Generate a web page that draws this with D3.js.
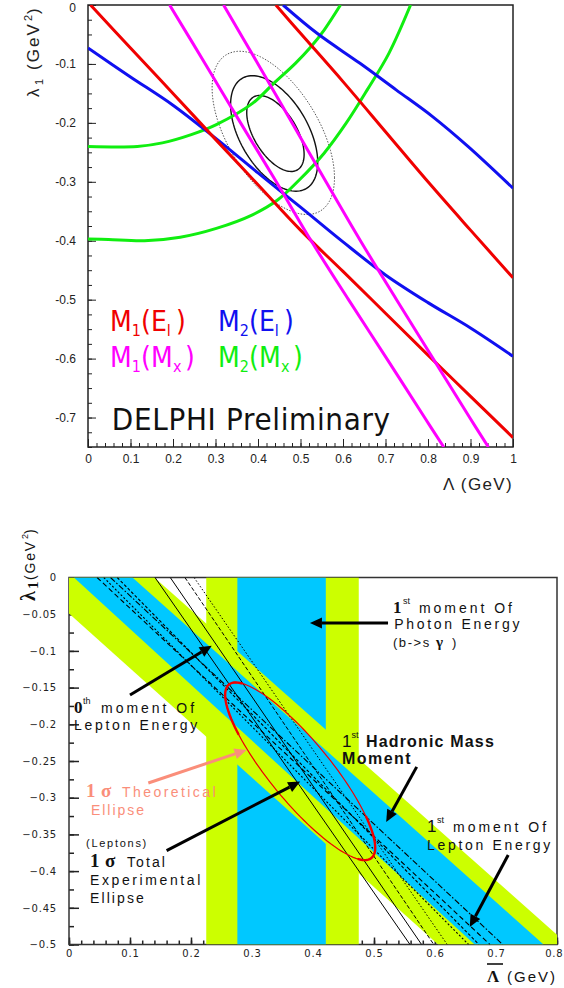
<!DOCTYPE html>
<html>
<head>
<meta charset="utf-8">
<script src="https://cdn.jsdelivr.net/npm/d3@7"></script>
<style>
  body { margin: 0; background: #fff; }
  svg { display: block; }
</style>
</head>
<body>
<svg id="chart" width="564" height="988"></svg>
<script>
// ================= top panel: DELPHI fit of lambda1 vs Lambda =================
const topXTicks = [0, 0.1, 0.2, 0.3, 0.4, 0.5, 0.6, 0.7, 0.8, 0.9, 1];
const topXLabels = ['0', '0.1', '0.2', '0.3', '0.4', '0.5', '0.6', '0.7', '0.8', '0.9', '1'];
const topYTicks = [0, -0.1, -0.2, -0.3, -0.4, -0.5, -0.6, -0.7];
const topYLabels = ['0', '-0.1', '-0.2', '-0.3', '-0.4', '-0.5', '-0.6', '-0.7'];

// [Lambda, lambda1] points
const m1ElLow = [[0.006, 0], [0.1, -0.073], [0.2, -0.15], [0.3, -0.228], [0.4, -0.305], [0.5, -0.382],
  [0.6, -0.452], [0.7, -0.523], [0.8, -0.594], [0.9, -0.664], [1.0, -0.734]];
const m1ElHigh = [[0.442, 0], [0.5, -0.048], [0.6, -0.13], [0.7, -0.215], [0.8, -0.3], [0.9, -0.382], [1.0, -0.463]];
const m2ElLow = [[0, -0.073], [0.1, -0.122], [0.2, -0.17], [0.3, -0.226], [0.4, -0.285], [0.5, -0.343],
  [0.6, -0.402], [0.7, -0.458], [0.8, -0.505], [0.9, -0.548], [1.0, -0.596]];
const m2ElHigh = [[0.459, 0], [0.539, -0.048], [0.64, -0.099], [0.725, -0.144], [0.81, -0.189], [0.894, -0.24], [1.0, -0.311]];
const m1MxLeft = [[0.192, 0], [0.276, -0.1], [0.359, -0.2], [0.443, -0.3], [0.525, -0.4], [0.613, -0.5],
  [0.703, -0.6], [0.792, -0.7], [0.837, -0.75]];
const m1MxRight = [[0.319, 0], [0.4, -0.1], [0.48, -0.2], [0.56, -0.3], [0.641, -0.4], [0.726, -0.5],
  [0.812, -0.6], [0.898, -0.7], [0.942, -0.75]];
const m2MxInner = [[0, -0.24], [0.116, -0.24], [0.175, -0.234], [0.243, -0.22], [0.302, -0.203], [0.387, -0.167],
  [0.437, -0.133], [0.488, -0.099], [0.522, -0.073], [0.556, -0.042], [0.594, 0]];
const m2MxOuter = [[0, -0.397], [0.048, -0.398], [0.133, -0.4], [0.217, -0.394], [0.302, -0.379], [0.387, -0.356],
  [0.446, -0.331], [0.497, -0.297], [0.556, -0.251], [0.607, -0.201], [0.657, -0.144], [0.708, -0.082], [0.759, 0]];

// fit contours: centre, half width, half height, correlation
const contourCL = [0.441, 0.438, 0.436];
const contourCl = [-0.218, -0.218, -0.217];
const contourHW = [0.0675, 0.1025, 0.144];
const contourHH = [0.0645, 0.098, 0.1385];
const contourRho = [-0.55, -0.5, -0.55];
const contourDash = ['', '', '1.5,1.5'];

// ================= bottom panel: moments bands =================
const botXTicks = [0, 0.1, 0.2, 0.3, 0.4, 0.5, 0.6, 0.7, 0.8];
const botXLabels = ['0', '0.1', '0.2', '0.3', '0.4', '0.5', '0.6', '0.7', '0.8'];
const botYTicks = [0, -0.05, -0.1, -0.15, -0.2, -0.25, -0.3, -0.35, -0.4, -0.45, -0.5];
const botYLabels = ['0', '\u22120.05', '\u22120.1', '\u22120.15', '\u22120.2', '\u22120.25', '\u22120.3',
  '\u22120.35', '\u22120.4', '\u22120.45', '\u22120.5'];

// photon energy band (vertical), Lambda range
const photonOuter = [0.225, 0.475];
const photonInner = [0.276, 0.421];
// diagonal band edges: Lambda where the edge meets lambda1 = 0 and lambda1 = -0.5
const diagOuterLow = [-0.066, 0.605];
const diagInnerLow = [0.008, 0.665];
const diagInnerHigh = [0.104, 0.778];
const diagOuterHigh = [0.14, 0.818];

// 0th moment lepton energy lines
const zerothTop = [0.141, 0.166, 0.19, 0.205];
const zerothBottom = [0.559, 0.578, 0.598, 0.62];
const zerothDash = ['', '', '4,2', '1.5,2'];
// 1st moment lepton energy lines
const leptonTop = [0.046, 0.057, 0.068, 0.079];
const leptonBottom = [0.69, 0.655, 0.711, 0.672];
const leptonDash = ['5,3', '2,2', '6,2,1.5,2', '3,2'];

// theoretical 1 sigma ellipse
const theoCentre = [0.379, -0.264];
const theoHW = 0.123, theoHH = 0.121, theoRho = -0.86;
const theoThickArcs = [[140, 215], [320, 390]]; // degrees where the drawn line is heavier

// arrows [Lambda, lambda1]
const arrowFrom = [[0.523, -0.062], [0.10, -0.16], [0.13, -0.28], [0.16, -0.372], [0.57, -0.258], [0.72, -0.378]];
const arrowTo = [[0.395, -0.062], [0.234, -0.093], [0.291, -0.235], [0.379, -0.278], [0.52, -0.333], [0.657, -0.476]];
const arrowColor = ['#000', '#000', '#fa8e7a', '#000', '#000', '#000'];

const SANS = '"Liberation Sans", Arial, sans-serif';
const SERIF = '"Liberation Serif", "Times New Roman", serif';
const THIN = '"DejaVu Sans", sans-serif';
const COND = '"DejaVu Sans Condensed", "DejaVu Sans", sans-serif';

const svg = d3.select('#chart');

function styleAxis(sel, size, family) {
  sel.select('.domain').remove();
  sel.selectAll('.tick line').attr('stroke', '#222').attr('stroke-width', 1);
  sel.selectAll('.tick text').attr('fill', '#222')
    .style('font-family', family).style('font-size', size + 'px');
}

function ellipsePoints(cx, cy, sx, sy, rho, from = 0, to = 360) {
  const k = Math.sqrt(1 - rho * rho);
  return d3.range(from, to + 0.1, 3).map(a => {
    const t = a * Math.PI / 180;
    return [cx + sx * Math.cos(t), cy + sy * (rho * Math.cos(t) + k * Math.sin(t))];
  });
}

// one text made of flowing runs; each run: [text, start offset, baseline shift, size, family, weight, length]
function runs(g, x, y, list, color) {
  const t = g.append('text').attr('x', x).attr('y', y).attr('fill', color);
  let cursor = 0, base = 0;
  list.forEach(r => {
    const s = t.append('tspan')
      .attr('dx', Math.max(0, r[1] - cursor)).attr('dy', r[2] - base)
      .style('font-size', r[3] + 'px')
      .style('font-family', r[4])
      .style('font-stretch', r[4] === COND ? 'condensed' : 'normal')
      .style('font-weight', r[5] || 'normal')
      .text(r[0]);
    base = r[2];
    let w = s.node().getComputedTextLength();
    if (r[6] && r[0].length > 1) {
      s.style('letter-spacing', ((r[6] - w) / r[0].length) + 'px');
      w = r[6];
    }
    cursor = Math.max(cursor, r[1]) + w;
  });
  return t;
}

// ---------------- top panel ----------------
const xT = d3.scaleLinear().domain([0, 1]).range([88, 513]);
const yT = d3.scaleLinear().domain([-0.75, 0]).range([447, 5]);
const gTop = svg.append('g');

gTop.append('clipPath').attr('id', 'clipTop').append('rect')
  .attr('x', xT(0)).attr('y', yT(0)).attr('width', xT(1) - xT(0)).attr('height', yT(-0.75) - yT(0));

gTop.append('g').attr('transform', `translate(0,${yT(-0.75)})`)
  .call(d3.axisBottom(xT).tickValues(d3.range(0, 1.0001, 0.02)).tickSize(-4).tickFormat(''))
  .call(styleAxis, 12, SANS);
gTop.append('g').attr('transform', `translate(0,${yT(-0.75)})`)
  .call(d3.axisBottom(xT).tickValues(topXTicks).tickSize(-8).tickPadding(7).tickFormat((d, i) => topXLabels[i]))
  .call(styleAxis, 12, SANS);
gTop.append('g').attr('transform', `translate(${xT(0)},0)`)
  .call(d3.axisLeft(yT).tickValues(d3.range(0, -0.7501, -0.025)).tickSize(-4).tickFormat(''))
  .call(styleAxis, 12, SANS);
const topYAxis = gTop.append('g').attr('transform', `translate(${xT(0)},0)`)
  .call(d3.axisLeft(yT).tickValues(topYTicks).tickSize(-8).tickPadding(12).tickFormat((d, i) => topYLabels[i]))
  .call(styleAxis, 12, SANS);
topYAxis.selectAll('.tick text').filter(d => d === 0).attr('dy', '0.5em');

gTop.append('rect')
  .attr('x', xT(0)).attr('y', yT(0)).attr('width', xT(1) - xT(0)).attr('height', yT(-0.75) - yT(0))
  .attr('fill', 'none').attr('stroke', '#222').attr('stroke-width', 1.5);

const curves = gTop.append('g').attr('clip-path', 'url(#clipTop)');

// contours
contourCL.forEach((c, i) => {
  curves.append('path')
    .attr('d', d3.line().x(d => xT(d[0])).y(d => yT(d[1])).curve(d3.curveLinearClosed)(
      ellipsePoints(c, contourCl[i], contourHW[i], contourHH[i], contourRho[i])))
    .attr('fill', 'none').attr('stroke', i === 2 ? '#555' : '#111')
    .attr('stroke-width', i === 2 ? 1 : 1.4)
    .attr('stroke-dasharray', contourDash[i]);
});

const series = [
  [m2MxInner, '#10ee10'], [m2MxOuter, '#10ee10'],
  [m2ElLow, '#1010f0'], [m2ElHigh, '#1010f0'],
  [m1ElLow, '#f00000'], [m1ElHigh, '#f00000'],
  [m1MxLeft, '#ff00ff'], [m1MxRight, '#ff00ff']
];
const lineT = d3.line().x(d => xT(d[0])).y(d => yT(d[1])).curve(d3.curveCatmullRom.alpha(0.5));
series.forEach(s => {
  curves.append('path').attr('d', lineT(s[0]))
    .attr('fill', 'none').attr('stroke', s[1]).attr('stroke-width', 3);
});

// legend
function legendEntry(x, y, sub1, arg, sub2, color) {
  runs(gTop, x, y, [['M', 0, 0, 28, COND], [sub1, 21, 5, 16, COND], ['(' + arg, 31, 0, 28, COND],
    [sub2, arg === 'E' ? 56 : 63, 5, 16, COND], [')', arg === 'E' ? 66 : 75, 0, 28, COND]], color);
}
legendEntry(xT(0.052), yT(-0.553), '1', 'E', 'l', '#f00000');
legendEntry(xT(0.306), yT(-0.553), '2', 'E', 'l', '#1010f0');
legendEntry(xT(0.052), yT(-0.615), '1', 'M', 'x', '#ff00ff');
legendEntry(xT(0.306), yT(-0.615), '2', 'M', 'x', '#10ee10');
runs(gTop, xT(0.056), yT(-0.722), [['DELPHI Preliminary', 0, 0, 31, COND, 'normal', 279]], '#111');

// axis titles
runs(gTop, 443, 490, [['\u039b (GeV)', 0, 0, 17, SANS, 'normal', 70]], '#222');
const yl = gTop.append('g').attr('transform', 'translate(39,97) rotate(-90)');
runs(yl, 0, 0, [['\u03bb', 0, 0, 17, SANS], ['1', 12, 4, 11, SANS],
  ['(GeV', 27, 0, 17, SANS, 'normal', 48], ['2', 76, -7, 11, SANS], [')', 83, 0, 17, SANS]], '#222');

// ---------------- bottom panel ----------------
const xB = d3.scaleLinear().domain([0, 0.8]).range([69, 557]);
const yB = d3.scaleLinear().domain([-0.5, 0]).range([944.5, 577.5]);
const gBot = svg.append('g');

gBot.append('clipPath').attr('id', 'clipBot').append('rect')
  .attr('x', xB(0)).attr('y', yB(0)).attr('width', xB(0.8) - xB(0)).attr('height', yB(-0.5) - yB(0));

gBot.append('g').attr('transform', `translate(0,${yB(-0.5)})`)
  .call(d3.axisBottom(xB).tickValues(d3.range(0, 0.8001, 0.02)).tickSize(-4).tickFormat(''))
  .call(styleAxis, 10, THIN);
const botXAxis = gBot.append('g').attr('transform', `translate(0,${yB(-0.5)})`)
  .call(d3.axisBottom(xB).tickValues(botXTicks).tickSize(-7).tickPadding(5).tickFormat((d, i) => botXLabels[i]))
  .call(styleAxis, 10, THIN);
botXAxis.selectAll('.tick text').filter(d => d === 0.8).attr('text-anchor', 'end').attr('x', 6);
gBot.append('g').attr('transform', `translate(${xB(0)},0)`)
  .call(d3.axisLeft(yB).tickValues(d3.range(0, -0.5001, -0.025)).tickSize(-5).tickFormat(''))
  .call(styleAxis, 10, THIN);
gBot.append('g').attr('transform', `translate(${xB(0)},0)`)
  .call(d3.axisLeft(yB).tickValues(botYTicks).tickSize(-10).tickPadding(12).tickFormat((d, i) => botYLabels[i]))
  .call(styleAxis, 10, THIN);
gBot.selectAll('.tick line').attr('stroke-width', 1.5);
gBot.selectAll('.tick text').style('letter-spacing', '0.8px');

gBot.append('rect')
  .attr('x', xB(0)).attr('y', yB(0)).attr('width', xB(0.8) - xB(0)).attr('height', yB(-0.5) - yB(0))
  .attr('fill', 'none').attr('stroke', '#333').attr('stroke-width', 1.5);

const bands = gBot.append('g').attr('clip-path', 'url(#clipBot)');
bands.append('rect').attr('x', xB(photonOuter[0])).attr('y', yB(0))
  .attr('width', xB(photonOuter[1]) - xB(photonOuter[0])).attr('height', yB(-0.5) - yB(0)).attr('fill', '#ccff00');
bands.append('rect').attr('x', xB(photonInner[0])).attr('y', yB(0))
  .attr('width', xB(photonInner[1]) - xB(photonInner[0])).attr('height', yB(-0.5) - yB(0)).attr('fill', '#00c8ff');

const polyB = d3.line().x(d => xB(d[0])).y(d => yB(d[1])).curve(d3.curveLinearClosed);
function bandPoly(lo, hi) {
  return polyB([[lo[0], 0], [hi[0], 0], [hi[1], -0.5], [lo[1], -0.5]]);
}
bands.append('path').attr('d', bandPoly(diagOuterLow, diagOuterHigh)).attr('fill', '#ccff00');
bands.append('path').attr('d', bandPoly(diagInnerLow, diagInnerHigh)).attr('fill', '#00c8ff');

// black theory lines
zerothTop.forEach((v, i) => {
  bands.append('line')
    .attr('x1', xB(v)).attr('y1', yB(0)).attr('x2', xB(zerothBottom[i])).attr('y2', yB(-0.5))
    .attr('stroke', '#000').attr('stroke-width', 1).attr('stroke-dasharray', zerothDash[i]);
});
leptonTop.forEach((v, i) => {
  bands.append('line')
    .attr('x1', xB(v)).attr('y1', yB(0)).attr('x2', xB(leptonBottom[i])).attr('y2', yB(-0.5))
    .attr('stroke', '#000').attr('stroke-width', 1.1).attr('stroke-dasharray', leptonDash[i]);
});

// theoretical ellipse
const lineB = d3.line().x(d => xB(d[0])).y(d => yB(d[1]));
bands.append('path')
  .attr('d', lineB.curve(d3.curveLinearClosed)(
    ellipsePoints(theoCentre[0], theoCentre[1], theoHW, theoHH, theoRho)))
  .attr('fill', 'none').attr('stroke', '#f00000').attr('stroke-width', 1.2);
theoThickArcs.forEach(arc => {
  bands.append('path')
    .attr('d', lineB.curve(d3.curveLinear)(
      ellipsePoints(theoCentre[0], theoCentre[1], theoHW, theoHH, theoRho, arc[0], arc[1])))
    .attr('fill', 'none').attr('stroke', '#f00000').attr('stroke-width', 2.4);
});

// arrows
arrowFrom.forEach((f, i) => {
  const x0 = xB(f[0]), y0 = yB(f[1]), x1 = xB(arrowTo[i][0]), y1 = yB(arrowTo[i][1]);
  const a = Math.atan2(y1 - y0, x1 - x0), L = 12, W = 5.5;
  const bx = x1 - L * Math.cos(a), by = y1 - L * Math.sin(a);
  gBot.append('line').attr('x1', x0).attr('y1', y0).attr('x2', bx).attr('y2', by)
    .attr('stroke', arrowColor[i]).attr('stroke-width', 3);
  gBot.append('path')
    .attr('d', `M${x1},${y1}L${bx - W * Math.sin(a)},${by + W * Math.cos(a)}L${bx + W * Math.sin(a)},${by - W * Math.cos(a)}Z`)
    .attr('fill', arrowColor[i]);
});

// annotations
const note = (L, l, list, color) => runs(gBot, xB(L), yB(l), list, color || '#111');
note(0.531, -0.0477, [['1', 0, 0, 17, SERIF, 'bold'], ['st', 10, -9, 9, SANS],
  ['moment Of', 26, 0, 14, SANS, 'normal', 96]]);
note(0.533, -0.0708, [['Photon Energy', 0, 0, 14, SANS, 'normal', 128]]);
note(0.531, -0.0947, [['(b->s', 0, 0, 13, SANS, 'normal', 38], ['\u03b3', 43, 0, 15, SERIF, 'bold'],
  [')', 59, 0, 13, SANS]]);
note(0.0082, -0.1846, [['0', 0, 0, 17, SERIF, 'bold'], ['th', 9, -9, 9, SANS],
  ['moment Of', 27, 0, 14, SANS, 'normal', 96]]);
note(0.0082, -0.2084, [['Lepton Energy', 0, 0, 14, SANS, 'normal', 126]]);
note(0.0279, -0.299, [['1', 0, 0, 19, SERIF, 'bold'], ['\u03c3', 15, 0, 19, SERIF, 'bold'],
  ['Theoretical', 36, 0, 14, SANS, 'normal', 96]], '#fa8e7a');
note(0.036, -0.3236, [['Ellipse', 0, 0, 14, SANS, 'normal', 55]], '#fa8e7a');
note(0.0279, -0.367, [['(Leptons)', 0, 0, 11, SANS, 'normal', 62]]);
note(0.0344, -0.3944, [['1', 0, 0, 19, SERIF, 'bold'], ['\u03c3', 15, 0, 19, SERIF, 'bold'],
  ['Total', 37, 0, 14, SANS, 'normal', 40]]);
note(0.0344, -0.419, [['Experimental', 0, 0, 14, SANS, 'normal', 113]]);
note(0.0344, -0.4435, [['Ellipse', 0, 0, 14, SANS, 'normal', 56]]);
note(0.4475, -0.2309, [['1', 0, 0, 17, SANS], ['st', 9, -9, 9, SANS],
  ['Hadronic Mass', 24, 0, 16, SANS, 'bold', 129]]);
note(0.4475, -0.254, [['Moment', 0, 0, 16, SANS, 'bold', 70]]);
note(0.5869, -0.3463, [['1', 0, 0, 17, SANS], ['st', 10, -9, 9, SANS],
  ['moment Of', 26, 0, 14, SANS, 'normal', 96]]);
note(0.5869, -0.3713, [['Lepton Energy', 0, 0, 14, SANS, 'normal', 126]]);

// axis titles
gBot.append('line').attr('x1', 487).attr('x2', 503).attr('y1', 964).attr('y2', 964)
  .attr('stroke', '#111').attr('stroke-width', 1.6);
runs(gBot, 487, 982, [['\u039b', 0, 0, 17, SERIF, 'bold'], ['(GeV)', 20, 0, 15, SANS, 'normal', 50]], '#111');
const ylB = gBot.append('g').attr('transform', 'translate(35,601) rotate(-90)');
runs(ylB, 0, 0, [['\u03bb', 0, 0, 20, SERIF, 'bold'], ['1', 12, 3, 15, SERIF, 'bold'],
  ['(GeV', 21, 0, 14, SANS, 'normal', 40], ['2', 62, -7, 9, SANS], [')', 67, 0, 14, SANS]], '#111');
</script>
</body>
</html>
